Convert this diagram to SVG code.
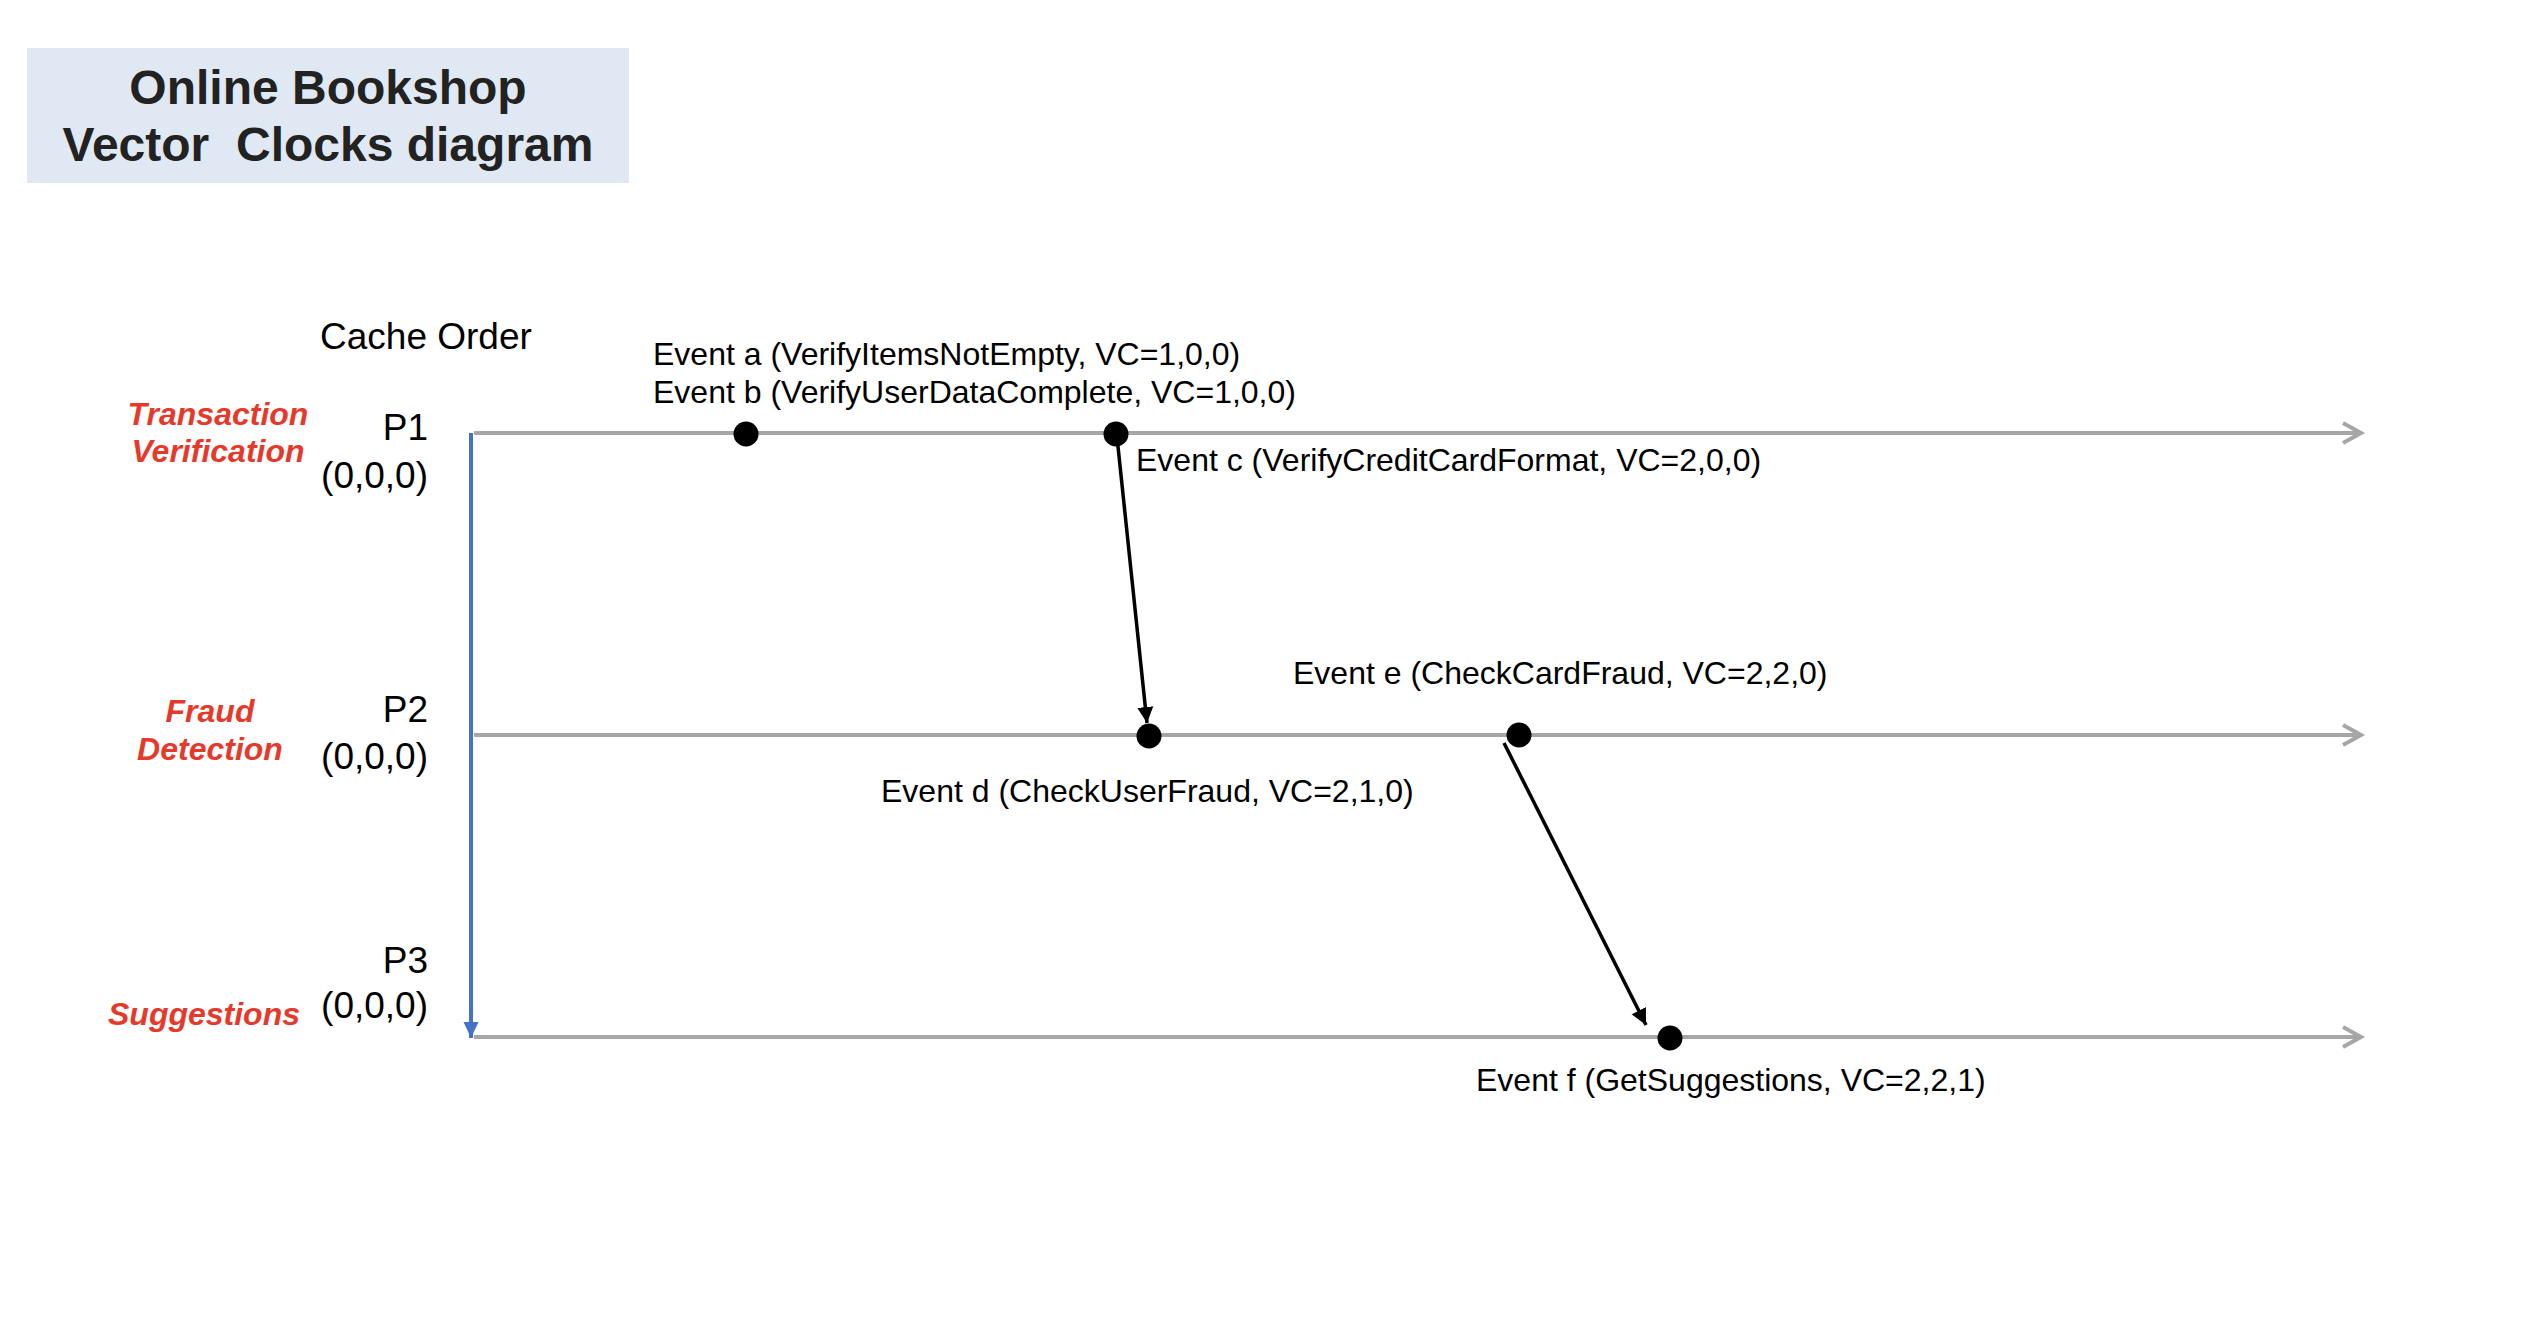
<svg xmlns="http://www.w3.org/2000/svg" width="2534" height="1332" viewBox="0 0 2534 1332">
<style>
.title{font-family:"Liberation Sans",Arial,sans-serif;font-weight:bold;font-size:48px;fill:#222;text-anchor:middle}
.lbl{font-family:"Liberation Sans",Arial,sans-serif;font-size:37px;fill:#000}
.proc{font-family:"Liberation Sans",Arial,sans-serif;font-size:37px;fill:#000;text-anchor:end}
.role{font-family:"Liberation Sans",Arial,sans-serif;font-weight:bold;font-style:italic;font-size:32px;fill:#e53a2b;text-anchor:middle}
.ev{font-family:"Liberation Sans",Arial,sans-serif;font-size:32px;fill:#000}
.tl{stroke:#a6a6a6;stroke-width:4;fill:none}
.msg{stroke:#000;stroke-width:3.5;fill:none}
.dot{fill:#000}
</style>
<defs>
<marker id="chev" markerUnits="userSpaceOnUse" markerWidth="26" markerHeight="30" refX="22" refY="15" orient="auto">
<path d="M3,5 L21,15 L3,25" fill="none" stroke="#a6a6a6" stroke-width="4"/>
</marker>
<marker id="tri" markerUnits="userSpaceOnUse" markerWidth="18" markerHeight="18" refX="16" refY="9" orient="auto">
<path d="M0,1 L16,9 L0,17 Z" fill="#000"/>
</marker>
<marker id="btri" markerUnits="userSpaceOnUse" markerWidth="18" markerHeight="18" refX="16" refY="9" orient="auto">
<path d="M0,1.5 L16,9 L0,16.5 Z" fill="#4472c4"/>
</marker>
</defs>
<rect width="2534" height="1332" fill="#fff"/>
<g id="title">
<rect x="27" y="48" width="602" height="135" fill="#dfe8f3"/>
<text class="title" x="328" y="104">Online Bookshop</text>
<text class="title" x="328" y="161" xml:space="preserve">Vector  Clocks diagram</text>
</g>
<g id="cache-order"><text class="lbl" x="320" y="349">Cache Order</text></g>
<g id="p1">
<text class="role" x="218" y="425">Transaction</text>
<text class="role" x="218" y="462">Verification</text>
<text class="proc" x="428" y="440">P1</text>
<text class="proc" x="428" y="488">(0,0,0)</text>
</g>
<g id="p2">
<text class="role" x="210" y="722">Fraud</text>
<text class="role" x="210" y="760">Detection</text>
<text class="proc" x="428" y="722">P2</text>
<text class="proc" x="428" y="769">(0,0,0)</text>
</g>
<g id="p3">
<text class="role" x="204" y="1025">Suggestions</text>
<text class="proc" x="428" y="973">P3</text>
<text class="proc" x="428" y="1018">(0,0,0)</text>
</g>
<g id="connectors">
<line x1="471" y1="433" x2="471" y2="1038" stroke="#4472c4" stroke-width="4" marker-end="url(#btri)"/>
<line class="tl" x1="474" y1="433" x2="2362" y2="433" marker-end="url(#chev)"/>
<line class="tl" x1="474" y1="735" x2="2362" y2="735" marker-end="url(#chev)"/>
<line class="tl" x1="474" y1="1037" x2="2362" y2="1037" marker-end="url(#chev)"/>
<line class="msg" x1="1117" y1="437" x2="1147" y2="723" marker-end="url(#tri)"/>
<line class="msg" x1="1504" y1="743" x2="1646" y2="1025" marker-end="url(#tri)"/>
</g>
<g id="event-a"><circle class="dot" cx="746" cy="434" r="12.5"/><text class="ev" x="653" y="365">Event a (VerifyItemsNotEmpty, VC=1,0,0)</text></g>
<g id="event-b"><text class="ev" x="653" y="403">Event b (VerifyUserDataComplete, VC=1,0,0)</text></g>
<g id="event-c"><circle class="dot" cx="1116" cy="434" r="12.5"/><text class="ev" x="1136" y="471">Event c (VerifyCreditCardFormat, VC=2,0,0)</text></g>
<g id="event-d"><circle class="dot" cx="1149" cy="736" r="12.5"/><text class="ev" x="881" y="802">Event d (CheckUserFraud, VC=2,1,0)</text></g>
<g id="event-e"><circle class="dot" cx="1519" cy="735" r="12.5"/><text class="ev" x="1293" y="684">Event e (CheckCardFraud, VC=2,2,0)</text></g>
<g id="event-f"><circle class="dot" cx="1670" cy="1038" r="12.5"/><text class="ev" x="1476" y="1091">Event f (GetSuggestions, VC=2,2,1)</text></g>
</svg>
